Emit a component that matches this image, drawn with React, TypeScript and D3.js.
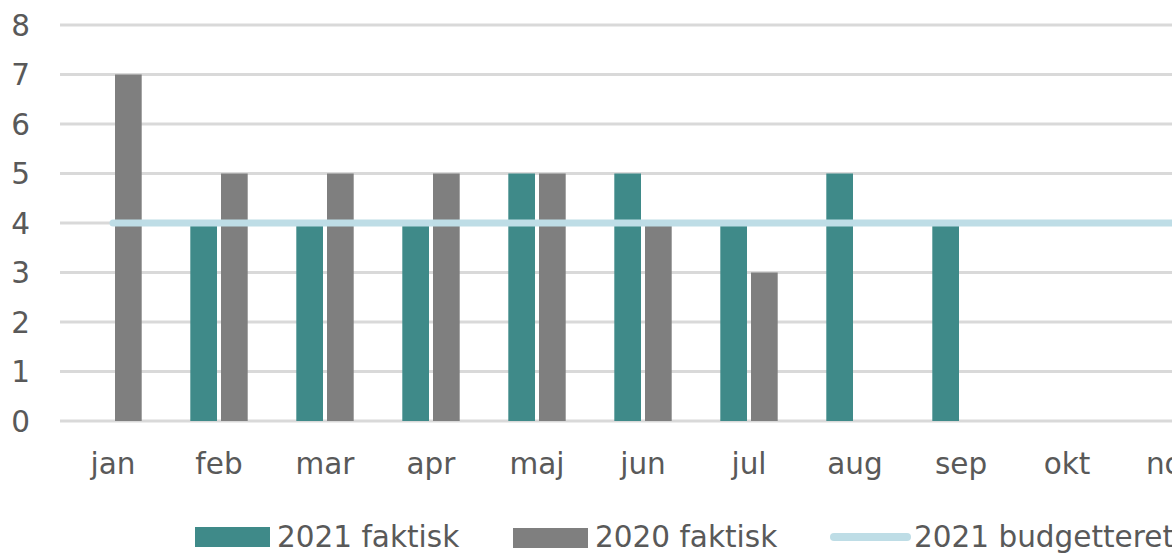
import React from "react";
import * as d3 from "d3";

const months = ["jan", "feb", "mar", "apr", "maj", "jun", "jul", "aug", "sep", "okt", "nov", "dec"];
const actual2021: (number | null)[] = [null, 4, 4, 4, 5, 5, 4, 5, 4, null, null, null];
const actual2020: (number | null)[] = [7, 5, 5, 5, 5, 4, 3, null, null, null, null, null];
const budget2021: number[] = [4, 4, 4, 4, 4, 4, 4, 4, 4, 4, 4, 4];
const yTicks = [0, 1, 2, 3, 4, 5, 6, 7, 8];

const TEAL = "#3F8A89";
const GRAY = "#7F7F7F";
const BUDGET = "#BEDDE6";
const TEXT = "#595959";
const GRID = "#D9D9D9";
const FONT = "'DejaVu Sans', sans-serif";
const FS = 29.5;

export default function App() {
  const W = 1172, H = 555;
  const left = 60, step = 106;
  const x = d3.scaleBand<string>().domain(months).range([left, left + step * months.length]).paddingInner(0).paddingOuter(0);
  const y = d3.scaleLinear().domain([0, 8]).range([421, 25]);
  const barW = 26.7, gap = 4;
  const line = d3.line<number>().x((_, i) => x(months[i])! + x.bandwidth() / 2).y(d => y(d));

  return (
    <svg width={W} height={H} style={{ position: "absolute", left: 0, top: 0, background: "#fff" }}>
      {yTicks.map(t => (
        <g key={t}>
          <line x1={left} x2={W + 200} y1={y(t)} y2={y(t)} stroke={GRID} strokeWidth={3} />
          <text x={30} y={y(t)} dy="0.36em" textAnchor="end" fill={TEXT} fontSize={FS} fontFamily={FONT}>{t}</text>
        </g>
      ))}
      {months.map((m, i) => {
        const c = x(m)! + x.bandwidth() / 2;
        const a = actual2021[i], b = actual2020[i];
        return (
          <g key={m}>
            {a != null && <rect x={c - gap / 2 - barW} y={y(a)} width={barW} height={y(0) - y(a)} fill={TEAL} />}
            {b != null && <rect x={c + gap / 2} y={y(b)} width={barW} height={y(0) - y(b)} fill={GRAY} />}
            <text x={c} y={474} textAnchor="middle" fill={TEXT} fontSize={FS} fontFamily={FONT}>{m}</text>
          </g>
        );
      })}
      <path d={line(budget2021) || ""} fill="none" stroke={BUDGET} strokeWidth={7} strokeLinecap="round" />
      <rect x={195} y={527} width={75} height={20} fill={TEAL} />
      <text x={277} y={547} fill={TEXT} fontSize={FS} fontFamily={FONT}>2021 faktisk</text>
      <rect x={513} y={528} width={75} height={20} fill={GRAY} />
      <text x={595} y={547} fill={TEXT} fontSize={FS} fontFamily={FONT}>2020 faktisk</text>
      <line x1={834} x2={907} y1={537} y2={537} stroke={BUDGET} strokeWidth={8} strokeLinecap="round" />
      <text x={914} y={547} fill={TEXT} fontSize={FS} fontFamily={FONT}>2021 budgetteret</text>
    </svg>
  );
}
